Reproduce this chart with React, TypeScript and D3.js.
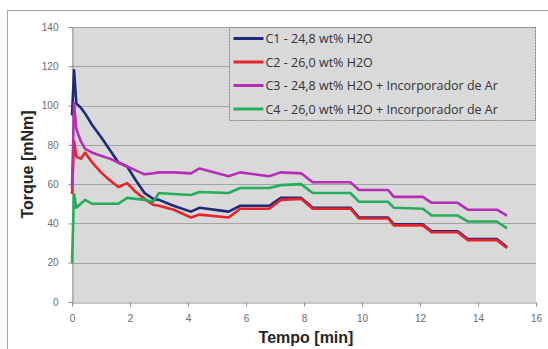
import React, {useEffect, useRef} from 'react';
import * as d3 from 'd3';

// time samples (min), shared by all four series
const tempo = [0, 0.07, 0.15, 0.3, 0.45, 0.7, 1.0, 1.3, 1.6, 1.9, 2.2, 2.5, 2.8, 3.0, 3.5, 4.1, 4.4, 5.4, 5.8, 6.8, 7.2, 7.9, 8.3, 9.6, 9.9, 10.9, 11.1, 12.1, 12.4, 13.3, 13.65, 14.65, 15.0];

const c1 = [95, 118, 101, 99, 96, 90, 84, 77.5, 71, 69, 62, 55.5, 52.5, 52, 49, 46, 48, 46, 49, 49, 53, 53, 48, 48, 43, 43, 39.5, 39.5, 36, 36, 32, 32, 28];
const c2 = [55, 82, 74, 73, 76, 71, 66, 62, 58.5, 60.5, 56, 52.5, 49.5, 49, 47, 43, 44.5, 43, 47.5, 47.5, 52, 52.5, 47.5, 47.5, 42.5, 42.5, 39, 39, 35.5, 35.5, 31.5, 31.5, 27.5];
const c3 = [58, 101, 88, 82, 78, 76, 74.5, 73, 71, 69, 67, 65, 65.5, 66, 66, 65.5, 68, 64, 66, 64, 66, 65.5, 61, 61, 57, 57, 53.5, 53.5, 50.5, 50.5, 47, 47, 44];
const c4 = [20, 55, 48, 50, 52, 50, 50, 50, 50, 53, 52.5, 52, 51, 55.5, 55, 54.5, 56, 55.5, 58, 58, 59.5, 60, 55.5, 55.5, 51, 51, 48, 47.5, 44, 44, 41, 41, 37.5];

const seriesNames = [
    'C1 - 24,8 wt% H2O',
    'C2 - 26,0 wt% H2O',
    'C3 - 24,8 wt% H2O + Incorporador de Ar',
    'C4 - 26,0 wt% H2O + Incorporador de Ar',
];
const seriesValues = [c1, c2, c3, c4];
const colors = ['#1F2A78', '#E8232B', '#B62DB6', '#25AE5A'];

const xTicks = [0, 2, 4, 6, 8, 10, 12, 14, 16];
const yTicks = [0, 20, 40, 60, 80, 100, 120, 140];

function TorqueChart({width, height}) {
    const svgRef = useRef();

    useEffect(() => {
        const svg = d3.select(svgRef.current);
        svg.selectAll('*').remove();

        const margin = {top: 27, right: 12, bottom: 47, left: 72};

        const xScale = d3.scaleLinear()
            .domain([0, 16])
            .range([margin.left, width - margin.right]);

        const yScale = d3.scaleLinear()
            .domain([0, 140])
            .range([height - margin.bottom, margin.top]);

        // chart frame
        svg.append('rect')
            .attr('x', 7.5)
            .attr('y', 10.5)
            .attr('width', width)
            .attr('height', height)
            .attr('fill', '#ffffff')
            .attr('stroke', '#a8a8a8');

        // plot area
        svg.append('rect')
            .attr('x', xScale(0))
            .attr('y', yScale(140))
            .attr('width', xScale(16) - xScale(0))
            .attr('height', yScale(0) - yScale(140))
            .attr('fill', '#d9d9d9');

        // grid
        svg.append('g')
            .selectAll('line')
            .data(yTicks.filter(d => d > 0))
            .join('line')
            .attr('x1', xScale(0))
            .attr('x2', xScale(16))
            .attr('y1', d => Math.round(yScale(d)) + 0.5)
            .attr('y2', d => Math.round(yScale(d)) + 0.5)
            .attr('stroke', '#a3a3a3')
            .attr('stroke-width', 1);

        const xAxis = d3.axisBottom(xScale)
            .tickValues(xTicks)
            .tickSize(4)
            .tickPadding(8);

        const yAxis = d3.axisLeft(yScale)
            .tickValues(yTicks)
            .tickSize(4)
            .tickPadding(10);

        svg.append('g')
            .attr('transform', `translate(0, ${Math.round(yScale(0)) + 0.5})`)
            .call(xAxis)
            .call(g => g.select('.domain').attr('stroke', '#8c8c8c'))
            .call(g => g.selectAll('.tick line').attr('stroke', '#8c8c8c'))
            .call(g => g.selectAll('text')
                .attr('fill', '#6b6b6b')
                .style('font-family', '"Liberation Sans", Arial, sans-serif')
                .style('font-size', '10px'));

        svg.append('g')
            .attr('transform', `translate(${xScale(0) + 0.5}, 0)`)
            .call(yAxis)
            .call(g => g.select('.domain').attr('stroke', '#8c8c8c'))
            .call(g => g.selectAll('.tick line').attr('stroke', '#8c8c8c'))
            .call(g => g.selectAll('text')
                .attr('fill', '#6b6b6b')
                .style('font-family', '"Liberation Sans", Arial, sans-serif')
                .style('font-size', '10px'));

        // curves
        const line = d3.line()
            .x((d, i) => xScale(tempo[i]))
            .y(d => yScale(d));

        svg.append('g')
            .selectAll('path')
            .data(seriesValues)
            .join('path')
            .attr('d', d => line(d))
            .attr('fill', 'none')
            .attr('stroke', (d, i) => colors[i])
            .attr('stroke-width', 2.6)
            .attr('stroke-linejoin', 'round');

        // axis titles
        svg.append('text')
            .attr('x', (xScale(0) + xScale(16)) / 2 + 2)
            .attr('y', height - 6)
            .attr('text-anchor', 'middle')
            .attr('fill', '#262626')
            .style('font-family', '"Liberation Sans", Arial, sans-serif')
            .style('font-weight', 'bold')
            .style('font-size', '16px')
            .text('Tempo [min]');

        svg.append('text')
            .attr('transform', `translate(33, ${(yScale(0) + yScale(140)) / 2}) rotate(-90)`)
            .attr('text-anchor', 'middle')
            .attr('fill', '#262626')
            .style('font-family', '"Liberation Sans", Arial, sans-serif')
            .style('font-weight', 'bold')
            .style('font-size', '16px')
            .text('Torque [mNm]');

        // legend
        const legend = svg.append('g')
            .attr('transform', 'translate(229.5, 27.5)');

        legend.append('rect')
            .attr('width', 306)
            .attr('height', 93)
            .attr('fill', '#d9d9d9')
            .attr('stroke', '#7f7f7f')
            .attr('stroke-dasharray', '2,1');

        legend.selectAll('.legend-item')
            .data(seriesNames)
            .join('g')
            .attr('class', 'legend-item')
            .attr('transform', (d, i) => `translate(0, ${11 + i * 23.5})`)
            .call(g => {
                g.append('line')
                    .attr('x1', 4)
                    .attr('x2', 34)
                    .attr('stroke', (d, i) => colors[i])
                    .attr('stroke-width', 3);
                g.append('text')
                    .attr('x', 36)
                    .attr('y', 4.5)
                    .attr('fill', '#333333')
                    .style('font-family', '"Open Sans", sans-serif')
                    .style('font-size', '12.5px')
                    .text(d => d);
            });

    }, [height, width]);

    return <svg ref={svgRef} width={width} height={height}
                style={{position: 'absolute', left: 0, top: 0, overflow: 'hidden'}}/>;
}

export default function App() {
    return <TorqueChart width={548} height={349}/>;
}
